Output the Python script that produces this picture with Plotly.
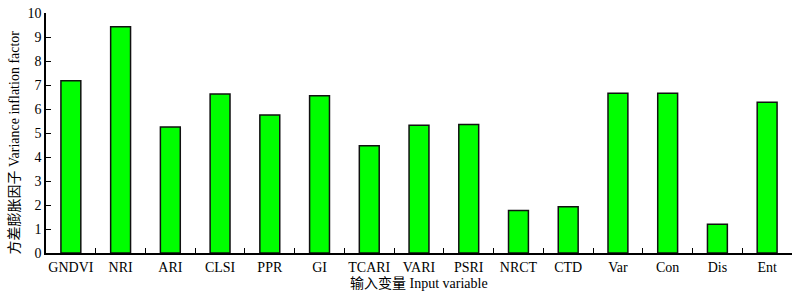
import plotly.graph_objects as go

categories = ["GNDVI", "NRI", "ARI", "CLSI", "PPR", "GI", "TCARI", "VARI",
              "PSRI", "NRCT", "CTD", "Var", "Con", "Dis", "Ent"]
vif_values = [7.18, 9.43, 5.25, 6.62, 5.75, 6.55, 4.47, 5.32,
              5.35, 1.77, 1.93, 6.66, 6.66, 1.20, 6.28]
y_ticks = list(range(0, 11))

font_main = "Liberation Serif, Times New Roman, Noto Sans CJK SC, serif"

fig = go.Figure()
fig.add_trace(go.Bar(
    x=categories, y=vif_values, width=0.4,
    marker=dict(color="#00FF00", line=dict(color="#111111", width=1.5)),
))
fig.update_layout(
    width=800, height=299,
    margin=dict(l=46, r=8, t=13, b=46),
    plot_bgcolor="white", paper_bgcolor="white",
    showlegend=False,
    font=dict(family=font_main, size=14, color="black"),
)
fig.update_xaxes(
    showline=True, linecolor="black", linewidth=1.5,
    ticks="inside", ticklen=5, tickcolor="black", tickwidth=1,
    tickson="boundaries", showgrid=False, zeroline=False,
    tickangle=0, automargin=False,
    tickfont=dict(family=font_main, size=14),
)
fig.update_yaxes(
    range=[0, 10], tickvals=y_ticks,
    showline=True, linecolor="black", linewidth=1.5,
    ticks="inside", ticklen=5, tickcolor="black", tickwidth=1,
    showgrid=False, zeroline=False, automargin=False,
    tickfont=dict(family=font_main, size=14),
)
fig.add_annotation(
    text="输入变量 Input variable", xref="paper", yref="paper",
    x=0.5, y=-0.125, xanchor="center", yanchor="middle",
    showarrow=False, font=dict(family=font_main, size=14),
)
fig.add_annotation(
    text="方差膨胀因子 Variance inflation factor", xref="paper", yref="paper",
    x=-0.043, y=0.46, xanchor="center", yanchor="middle", textangle=-90,
    showarrow=False, font=dict(family=font_main, size=14),
)
fig.write_html("out.html")
